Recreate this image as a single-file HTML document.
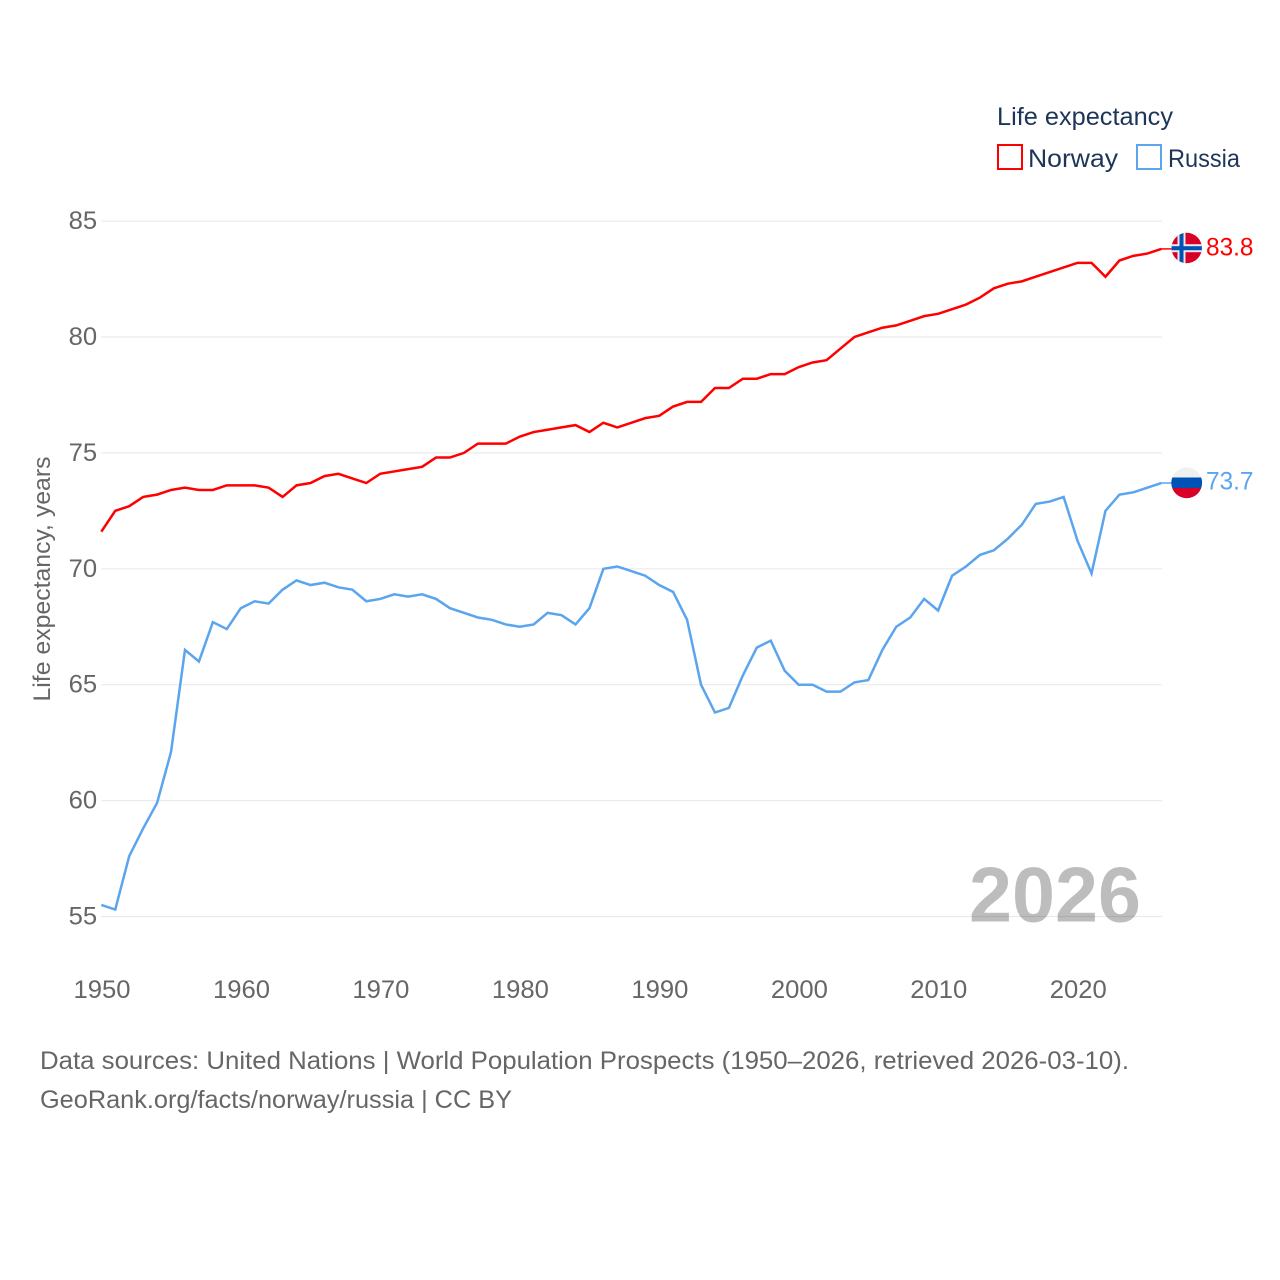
<!DOCTYPE html>
<html>
<head>
<meta charset="utf-8">
<title>Life expectancy: Norway vs Russia</title>
<style>
html,body{margin:0;padding:0;background:#fff;}
svg{display:block;font-family:"Liberation Sans",sans-serif;}
</style>
</head>
<body>
<svg id="chart" width="1280" height="1280" viewBox="0 0 1280 1280" xmlns="http://www.w3.org/2000/svg">
  <defs>
    <clipPath id="clip-no"><circle cx="1186.7" cy="248" r="15.2"/></clipPath>
    <clipPath id="clip-ru"><circle cx="1186.7" cy="482.8" r="15.4"/></clipPath>
  </defs>
  <rect width="1280" height="1280" fill="#fff"/>
  <g id="grid"></g>
  <g id="yticks"></g>
  <g id="xticks"></g>
  <text transform="translate(50,579) rotate(-90)" text-anchor="middle" font-size="24" fill="#666" textLength="245" lengthAdjust="spacingAndGlyphs">Life expectancy, years</text>
  <text x="969" y="921.5" font-size="78" font-weight="bold" fill="#000" fill-opacity="0.26" textLength="172" lengthAdjust="spacingAndGlyphs">2026</text>
  <g id="series"></g>
  <g clip-path="url(#clip-no)">
    <rect x="1171" y="232" width="32" height="32" fill="#d80027"/>
    <rect x="1177.5" y="232" width="8" height="32" fill="#e8e8f0"/>
    <rect x="1171" y="244.2" width="32" height="8" fill="#e8e8f0"/>
    <rect x="1179.5" y="232" width="4" height="32" fill="#0052b4"/>
    <rect x="1171" y="246.2" width="32" height="4" fill="#0052b4"/>
  </g>
  <g clip-path="url(#clip-ru)">
    <rect x="1171" y="467" width="32" height="11" fill="#f0f0f0"/>
    <rect x="1171" y="477.5" width="32" height="10.5" fill="#0052b4"/>
    <rect x="1171" y="488" width="32" height="11" fill="#d80027"/>
  </g>
  <g>
    <text x="997" y="125" font-size="25" fill="#1d3557" textLength="176" lengthAdjust="spacingAndGlyphs">Life expectancy</text>
    <rect x="998" y="145" width="24" height="24" fill="#fff" stroke="#ff0000" stroke-width="2"/>
    <text x="1028" y="167" font-size="25" fill="#1d3557" textLength="90" lengthAdjust="spacingAndGlyphs">Norway</text>
    <rect x="1137" y="145" width="24" height="24" fill="#fff" stroke="#5ba4ee" stroke-width="2"/>
    <text x="1168" y="167" font-size="25" fill="#1d3557" textLength="72" lengthAdjust="spacingAndGlyphs">Russia</text>
  </g>
  <text x="40" y="1069" font-size="25" fill="#666" textLength="1089" lengthAdjust="spacingAndGlyphs">Data sources: United Nations | World Population Prospects (1950–2026, retrieved 2026-03-10).</text>
  <text x="40" y="1108" font-size="25" fill="#666" textLength="472" lengthAdjust="spacingAndGlyphs">GeoRank.org/facts/norway/russia | CC BY</text>
</svg>
<script>
var startYear = 1950;
var norwayValues = [71.6,72.5,72.7,73.1,73.2,73.4,73.5,73.4,73.4,73.6,
  73.6,73.6,73.5,73.1,73.6,73.7,74.0,74.1,73.9,73.7,
  74.1,74.2,74.3,74.4,74.8,74.8,75.0,75.4,75.4,75.4,
  75.7,75.9,76.0,76.1,76.2,75.9,76.3,76.1,76.3,76.5,
  76.6,77.0,77.2,77.2,77.8,77.8,78.2,78.2,78.4,78.4,
  78.7,78.9,79.0,79.5,80.0,80.2,80.4,80.5,80.7,80.9,
  81.0,81.2,81.4,81.7,82.1,82.3,82.4,82.6,82.8,83.0,
  83.2,83.2,82.6,83.3,83.5,83.6,83.8];
var russiaValues = [55.5,55.3,57.6,58.8,59.9,62.1,66.5,66.0,67.7,67.4,
  68.3,68.6,68.5,69.1,69.5,69.3,69.4,69.2,69.1,68.6,
  68.7,68.9,68.8,68.9,68.7,68.3,68.1,67.9,67.8,67.6,
  67.5,67.6,68.1,68.0,67.6,68.3,70.0,70.1,69.9,69.7,
  69.3,69.0,67.8,65.0,63.8,64.0,65.4,66.6,66.9,65.6,
  65.0,65.0,64.7,64.7,65.1,65.2,66.5,67.5,67.9,68.7,
  68.2,69.7,70.1,70.6,70.8,71.3,71.9,72.8,72.9,73.1,
  71.2,69.8,72.5,73.2,73.3,73.5,73.7];
var yTickValues = [55,60,65,70,75,80,85];
var xTickValues = [1950,1960,1970,1980,1990,2000,2010,2020];

var NS = 'http://www.w3.org/2000/svg';
function xScale(year){ return 101.3 + (year - 1950) * 13.947; }
function yScale(v){ return 916.5 - (v - 55) * 23.18; }
function make(tag, parent){
  var n = document.createElementNS(NS, tag);
  document.getElementById(parent).appendChild(n);
  return n;
}

yTickValues.forEach(function(v){
  var line = make('line', 'grid');
  
  
  line.setAttribute('x1', 101.3);
  line.setAttribute('x2', 1162);
  line.setAttribute('y1', yScale(v));
  line.setAttribute('y2', yScale(v));
  line.setAttribute('stroke', '#ebebeb');
  line.setAttribute('stroke-width', 1.2);

  var t = make('text', 'yticks');
  
  
  t.setAttribute('x', 68.7);
  t.setAttribute('y', yScale(v) + 8);
  t.setAttribute('font-size', 25);
  t.setAttribute('fill', '#666');
  t.setAttribute('textLength', 28.5);
  t.setAttribute('lengthAdjust', 'spacingAndGlyphs');
  t.textContent = v;
});

xTickValues.forEach(function(y){
  var t = make('text', 'xticks');
  
  
  t.setAttribute('x', xScale(y) - 27.8);
  t.setAttribute('y', 998);
  t.setAttribute('font-size', 25);
  t.setAttribute('fill', '#666');
  t.setAttribute('textLength', 57);
  t.setAttribute('lengthAdjust', 'spacingAndGlyphs');
  t.textContent = y;
});

function drawSeries(values, color, lineName, labelName, connectorName){
  var pts = values.map(function(v, i){
    return xScale(startYear + i).toFixed(2) + ',' + yScale(v).toFixed(2);
  }).join(' ');
  var line = make('polyline', 'series');
  
  
  line.setAttribute('points', pts);
  line.setAttribute('fill', 'none');
  line.setAttribute('stroke', color);
  line.setAttribute('stroke-width', 2.5);
  line.setAttribute('stroke-linejoin', 'miter');

  var last = values[values.length - 1];
  var ly = yScale(last);
  var conn = make('line', 'series');
  
  
  conn.setAttribute('x1', 1161);
  conn.setAttribute('x2', 1172);
  conn.setAttribute('y1', ly);
  conn.setAttribute('y2', ly);
  conn.setAttribute('stroke', color);
  conn.setAttribute('stroke-width', 1.5);

  var t = make('text', 'series');
  
  
  t.setAttribute('x', 1206);
  t.setAttribute('y', ly + 6.5);
  t.setAttribute('font-size', 25);
  t.setAttribute('fill', color);
  t.setAttribute('textLength', 47.5);
  t.setAttribute('lengthAdjust', 'spacingAndGlyphs');
  t.textContent = last.toFixed(1);
}
drawSeries(norwayValues, '#ff0000', 'norway-line', 'norway-end-value', 'norway-connector');
drawSeries(russiaValues, '#5ba4ee', 'russia-line', 'russia-end-value', 'russia-connector');
</script>
</body>
</html>
